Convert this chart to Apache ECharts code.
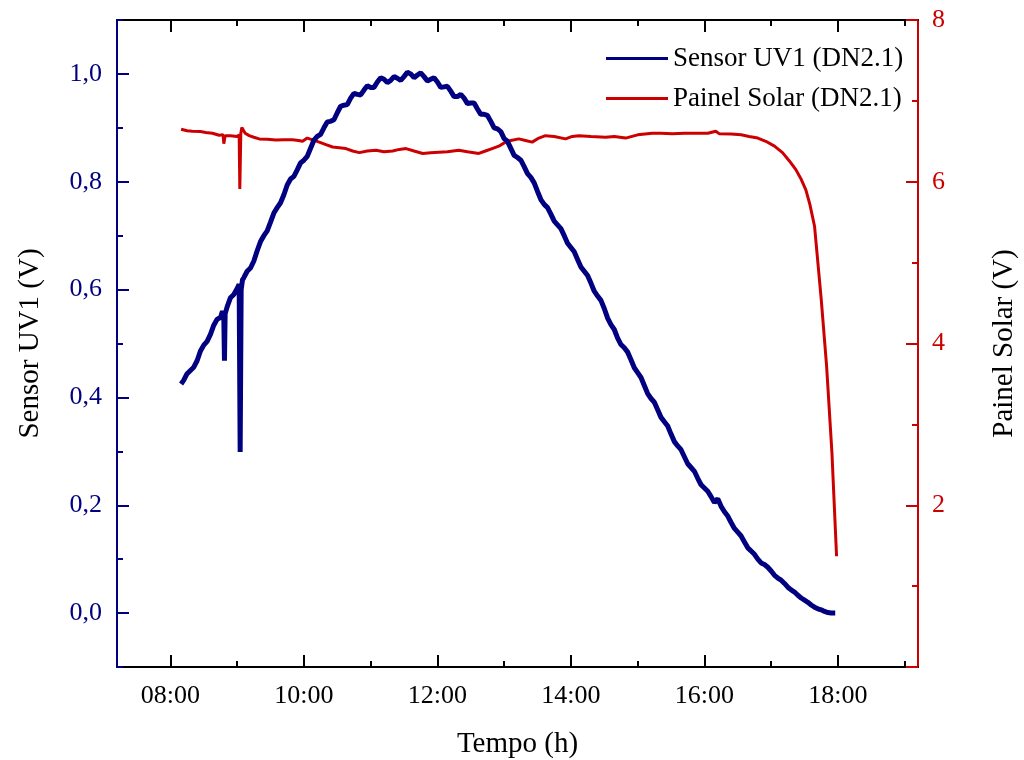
<!DOCTYPE html>
<html>
<head>
<meta charset="utf-8">
<script src="https://cdn.jsdelivr.net/npm/echarts@6/dist/echarts.min.js"></script>
<style>
  html, body { margin: 0; padding: 0; background: #fff; }
  #chart { width: 1024px; height: 760px; }
</style>
</head>
<body>
<div id="chart"></div>
<script>
// Tempo (h) x tensão (V)
const sensorUV1 = [
  [8.16, 0.425], [8.2, 0.432], [8.25, 0.444], [8.3, 0.450], [8.35, 0.456], [8.4, 0.468],
  [8.45, 0.486], [8.5, 0.497], [8.55, 0.504], [8.6, 0.517], [8.65, 0.534], [8.7, 0.545],
  [8.75, 0.548], [8.78, 0.560], [8.80, 0.550], [8.81, 0.468], [8.82, 0.555], [8.85, 0.568],
  [8.9, 0.585], [8.95, 0.591], [9.0, 0.602], [9.03, 0.610], [9.045, 0.299], [9.06, 0.600],
  [9.08, 0.618], [9.1, 0.622], [9.15, 0.634], [9.2, 0.640], [9.25, 0.653], [9.3, 0.672],
  [9.35, 0.689], [9.4, 0.700], [9.45, 0.709], [9.5, 0.725], [9.55, 0.742], [9.6, 0.752],
  [9.65, 0.761], [9.7, 0.776], [9.75, 0.794], [9.8, 0.805], [9.85, 0.810], [9.9, 0.822],
  [9.95, 0.835], [10.0, 0.840], [10.05, 0.847], [10.1, 0.862], [10.15, 0.877], [10.2, 0.884],
  [10.25, 0.888], [10.3, 0.900], [10.35, 0.911], [10.4, 0.912], [10.45, 0.915], [10.5, 0.928],
  [10.55, 0.940], [10.6, 0.942], [10.65, 0.943], [10.7, 0.955], [10.75, 0.964], [10.8, 0.962],
  [10.85, 0.961], [10.9, 0.970], [10.95, 0.978], [11.0, 0.975], [11.05, 0.975], [11.1, 0.985],
  [11.15, 0.993], [11.2, 0.990], [11.25, 0.984], [11.3, 0.988], [11.35, 0.995], [11.4, 0.992],
  [11.45, 0.988], [11.5, 0.995], [11.55, 1.003], [11.6, 1.000], [11.65, 0.993], [11.7, 0.998],
  [11.75, 1.002], [11.8, 0.995], [11.85, 0.987], [11.9, 0.990], [11.95, 0.993], [12.0, 0.985],
  [12.05, 0.975], [12.1, 0.976], [12.15, 0.977], [12.2, 0.968], [12.25, 0.958], [12.3, 0.958],
  [12.35, 0.962], [12.4, 0.955], [12.45, 0.945], [12.5, 0.946], [12.55, 0.946], [12.6, 0.935],
  [12.65, 0.925], [12.7, 0.925], [12.75, 0.923], [12.8, 0.912], [12.85, 0.900], [12.9, 0.898],
  [12.95, 0.893], [13.0, 0.880], [13.05, 0.875], [13.1, 0.862], [13.15, 0.849], [13.2, 0.845],
  [13.25, 0.840], [13.3, 0.828], [13.35, 0.815], [13.4, 0.808], [13.45, 0.798], [13.5, 0.782],
  [13.55, 0.767], [13.6, 0.758], [13.65, 0.752], [13.7, 0.740], [13.75, 0.727], [13.8, 0.720],
  [13.85, 0.713], [13.9, 0.700], [13.95, 0.686], [14.0, 0.678], [14.05, 0.670], [14.1, 0.656],
  [14.15, 0.642], [14.2, 0.634], [14.25, 0.626], [14.3, 0.612], [14.35, 0.597], [14.4, 0.588],
  [14.45, 0.580], [14.5, 0.565], [14.55, 0.547], [14.6, 0.535], [14.65, 0.526], [14.7, 0.510],
  [14.75, 0.498], [14.8, 0.492], [14.85, 0.484], [14.9, 0.470], [14.95, 0.455], [15.0, 0.446],
  [15.05, 0.437], [15.1, 0.422], [15.15, 0.407], [15.2, 0.398], [15.25, 0.391], [15.3, 0.377],
  [15.35, 0.363], [15.4, 0.355], [15.45, 0.347], [15.5, 0.332], [15.55, 0.318], [15.6, 0.310],
  [15.65, 0.303], [15.7, 0.290], [15.75, 0.277], [15.8, 0.270], [15.85, 0.263], [15.9, 0.250],
  [15.95, 0.238], [16.0, 0.232], [16.05, 0.226], [16.1, 0.216], [16.15, 0.205], [16.2, 0.212],
  [16.25, 0.198], [16.3, 0.188], [16.35, 0.180], [16.4, 0.168], [16.45, 0.157], [16.5, 0.150],
  [16.55, 0.143], [16.6, 0.132], [16.65, 0.121], [16.7, 0.115], [16.75, 0.109], [16.8, 0.100],
  [16.85, 0.093], [16.9, 0.090], [16.95, 0.085], [17.0, 0.078], [17.05, 0.070], [17.1, 0.065],
  [17.15, 0.061], [17.2, 0.055], [17.25, 0.048], [17.3, 0.043], [17.35, 0.039], [17.4, 0.033],
  [17.45, 0.028], [17.5, 0.024], [17.55, 0.020], [17.6, 0.015], [17.65, 0.011], [17.7, 0.008],
  [17.75, 0.006], [17.8, 0.003], [17.85, 0.001], [17.9, 0.000], [17.96, 0.000]
];

const painelSolar = [
  [8.16, 6.65], [8.25, 6.63], [8.33, 6.625], [8.45, 6.62], [8.53, 6.61], [8.63, 6.60],
  [8.73, 6.575], [8.79, 6.58], [8.80, 6.47], [8.82, 6.57], [8.9, 6.57], [9.0, 6.56],
  [9.03, 6.58], [9.04, 5.91], [9.055, 6.60], [9.07, 6.67], [9.12, 6.60], [9.18, 6.57],
  [9.25, 6.55], [9.33, 6.53], [9.45, 6.525], [9.58, 6.515], [9.7, 6.52], [9.83, 6.52],
  [9.92, 6.51], [9.98, 6.50], [10.05, 6.54], [10.12, 6.52], [10.23, 6.49], [10.33, 6.46],
  [10.43, 6.43], [10.53, 6.42], [10.63, 6.41], [10.73, 6.38], [10.83, 6.36], [10.95, 6.38],
  [11.08, 6.39], [11.2, 6.37], [11.33, 6.38], [11.43, 6.40], [11.53, 6.41], [11.65, 6.38],
  [11.78, 6.35], [11.9, 6.36], [12.02, 6.365], [12.15, 6.37], [12.32, 6.39], [12.45, 6.37],
  [12.62, 6.35], [12.72, 6.38], [12.82, 6.41], [12.92, 6.44], [13.02, 6.49], [13.1, 6.51],
  [13.22, 6.53], [13.32, 6.51], [13.42, 6.49], [13.52, 6.54], [13.62, 6.57], [13.75, 6.56],
  [13.92, 6.53], [14.02, 6.56], [14.12, 6.57], [14.3, 6.56], [14.52, 6.55], [14.65, 6.56],
  [14.82, 6.54], [15.0, 6.58], [15.22, 6.60], [15.35, 6.60], [15.52, 6.595], [15.7, 6.60],
  [15.92, 6.60], [16.05, 6.60], [16.17, 6.625], [16.22, 6.595], [16.4, 6.59], [16.55, 6.58],
  [16.67, 6.56], [16.8, 6.54], [16.92, 6.50], [17.05, 6.44], [17.17, 6.36], [17.27, 6.26],
  [17.37, 6.15], [17.45, 6.03], [17.52, 5.90], [17.58, 5.72], [17.65, 5.45], [17.75, 4.55],
  [17.83, 3.73], [17.91, 2.66], [17.98, 1.37]
];

const xMajorTicks = [8, 10, 12, 14, 16, 18];
const xMinorTicks = [7, 9, 11, 13, 15, 17, 19];
const uvMajorTicks = [0, 0.2, 0.4, 0.6, 0.8, 1.0];
const uvMinorTicks = [-0.1, 0.1, 0.3, 0.5, 0.7, 0.9, 1.1];

const NAVY = '#000080';
const RED = '#cc0000';
const FONT = '"Liberation Serif", "Times New Roman", serif';

const hourLabel = (v) => (v < 10 ? '0' : '') + v + ':00';

const xAxisBase = (position, ticks, len, showLine) => ({
    type: 'value',
    position: position,
    min: 7.2,
    max: 19.2,
    splitLine: { show: false },
    axisLine: { show: showLine, onZero: false, lineStyle: { color: '#000', width: 2 } },
    axisTick: { inside: true, length: len, customValues: ticks, lineStyle: { color: '#000', width: 2 } },
    axisLabel: { show: false }
});

const chart = echarts.init(document.getElementById('chart'));

const bottomAxis = xAxisBase('bottom', xMajorTicks, 12, true);
bottomAxis.axisLabel = {
    show: true,
    customValues: xMajorTicks,
    formatter: hourLabel,
    color: '#000',
    fontFamily: FONT,
    fontSize: 26,
    margin: 16
};
bottomAxis.name = 'Tempo (h)';
bottomAxis.nameLocation = 'middle';
bottomAxis.nameGap = 63;
bottomAxis.nameTextStyle = { color: '#000', fontFamily: FONT, fontSize: 29 };

chart.setOption({
    animation: false,
    backgroundColor: '#fff',
    grid: { left: 117, right: 106, top: 20, bottom: 93, outerBoundsMode: 'none', containLabel: false },
    legend: {
        orient: 'vertical',
        left: 601,
        top: 40,
        icon: 'rect',
        itemWidth: 62,
        itemHeight: 3,
        itemGap: 13,
        data: ['Sensor UV1 (DN2.1)', 'Painel Solar (DN2.1)'],
        textStyle: { color: '#000', fontFamily: FONT, fontSize: 27 }
    },
    xAxis: [
        bottomAxis,
        xAxisBase('bottom', xMinorTicks, 6, false),
        xAxisBase('top', xMajorTicks, 12, true),
        xAxisBase('top', xMinorTicks, 6, false)
    ],
    yAxis: [
        {
            type: 'value',
            position: 'left',
            min: -0.1,
            max: 1.1,
            splitLine: { show: false },
            axisLine: { show: true, onZero: false, lineStyle: { color: NAVY, width: 2 } },
            axisTick: { inside: true, length: 12, customValues: uvMajorTicks, lineStyle: { color: NAVY, width: 2 } },
            axisLabel: {
                customValues: uvMajorTicks,
                formatter: (v) => v.toFixed(1).replace('.', ','),
                color: NAVY,
                fontFamily: FONT,
                fontSize: 26,
                margin: 15
            },
            name: 'Sensor UV1 (V)',
            nameLocation: 'middle',
            nameGap: 72,
            nameTextStyle: { color: '#000', fontFamily: FONT, fontSize: 29 }
        },
        {
            type: 'value',
            position: 'right',
            min: 0,
            max: 8,
            interval: 2,
            splitLine: { show: false },
            axisLine: { show: true, onZero: false, lineStyle: { color: RED, width: 2 } },
            axisTick: { inside: true, length: 12, lineStyle: { color: RED, width: 2 } },
            minorTick: { show: true, splitNumber: 2, length: 6, lineStyle: { color: RED, width: 2 } },
            axisLabel: {
                formatter: (v) => (v === 0 ? '' : String(v)),
                color: RED,
                fontFamily: FONT,
                fontSize: 26,
                margin: 14
            },
            name: 'Painel Solar (V)',
            nameLocation: 'middle',
            nameGap: 72,
            nameRotate: 90,
            nameTextStyle: { color: '#000', fontFamily: FONT, fontSize: 29 }
        },
        {
            type: 'value',
            position: 'left',
            min: -0.1,
            max: 1.1,
            splitLine: { show: false },
            axisLine: { show: false, onZero: false },
            axisTick: { inside: true, length: 6, customValues: uvMinorTicks, lineStyle: { color: NAVY, width: 2 } },
            axisLabel: { show: false }
        }
    ],
    series: [
        {
            name: 'Sensor UV1 (DN2.1)',
            type: 'line',
            xAxisIndex: 0,
            yAxisIndex: 0,
            data: sensorUV1,
            showSymbol: false,
            z: 3,
            color: NAVY,
            lineStyle: { color: NAVY, width: 5 }
        },
        {
            name: 'Painel Solar (DN2.1)',
            type: 'line',
            xAxisIndex: 0,
            yAxisIndex: 1,
            data: painelSolar,
            showSymbol: false,
            z: 2,
            color: RED,
            lineStyle: { color: RED, width: 3 }
        }
    ]
});
</script>
</body>
</html>
